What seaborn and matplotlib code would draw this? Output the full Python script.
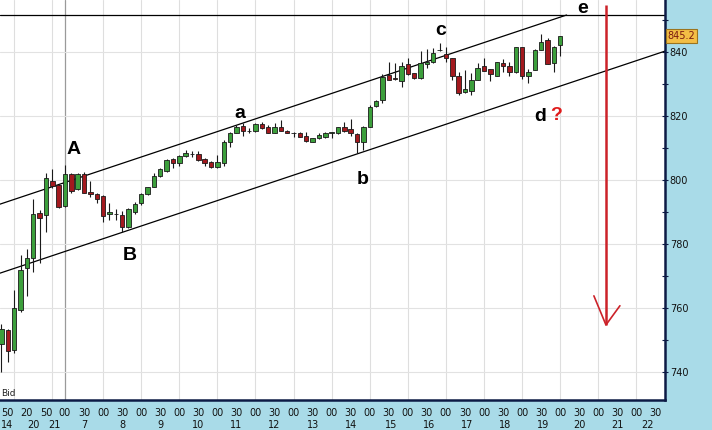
import matplotlib
matplotlib.use("Agg")
import matplotlib.pyplot as plt
import matplotlib.transforms as mtransforms
import numpy as np
import pandas as pd
import seaborn as sns

# ---------------- data ----------------
opens = [748.8, 753.1, 746.7, 759.4, 772.5, 775.6, 789.7, 789.1, 799.9, 798.5,
         792.0, 801.9, 797.2, 801.9, 796.4, 795.7, 795.1, 789.5, 789.5, 789.1,
         785.3, 789.9, 792.9, 795.7, 798.0, 801.3, 803.0, 806.6, 805.3, 807.7,
         808.2, 808.2, 806.6, 805.8, 804.1, 805.3, 811.8, 814.9, 817.0, 815.5,
         815.5, 817.6, 816.6, 814.9, 816.8, 815.5, 814.9, 814.7, 813.9, 812.1,
         813.1, 813.5, 814.8, 814.7, 816.8, 816.0, 814.5, 812.1, 816.8, 823.3,
         825.1, 833.0, 831.9, 831.1, 836.3, 833.5, 831.9, 836.3, 837.1, 840.7,
         839.4, 838.2, 832.6, 827.5, 828.0, 831.4, 835.6, 834.8, 832.7, 836.6,
         835.6, 833.8, 841.8, 832.7, 834.5, 840.8, 843.9, 836.6, 842.4]
highs = [755.0, 753.5, 765.7, 776.6, 778.4, 794.1, 790.7, 802.2, 803.4, 798.8,
         804.8, 802.2, 802.2, 802.7, 799.6, 796.1, 795.4, 793.0, 790.9, 790.5,
         791.2, 793.3, 796.1, 798.0, 802.2, 803.8, 806.7, 806.9, 807.9, 809.3,
         809.0, 809.0, 806.9, 806.1, 807.9, 812.5, 815.2, 817.3, 817.8, 816.3,
         817.8, 818.3, 817.3, 818.0, 818.7, 815.7, 815.0, 815.2, 815.2, 813.1,
         814.7, 815.2, 815.2, 816.8, 818.3, 819.1, 814.7, 817.0, 823.6, 825.1,
         833.2, 836.9, 836.6, 837.1, 838.4, 833.5, 840.3, 841.0, 841.5, 842.9,
         841.8, 838.2, 834.0, 834.5, 833.5, 836.6, 838.2, 834.8, 837.1, 838.0,
         837.1, 841.8, 841.8, 834.8, 841.1, 845.7, 844.6, 842.1, 845.0]
lows = [740.0, 743.2, 746.0, 758.6, 763.8, 771.4, 774.0, 783.9, 797.5, 791.2,
        791.7, 795.9, 797.0, 795.9, 794.7, 792.8, 787.0, 787.6, 787.6, 783.9,
        785.0, 789.5, 792.3, 795.4, 797.8, 801.1, 802.7, 803.8, 804.3, 807.4,
        807.4, 806.1, 804.5, 803.8, 803.8, 804.3, 810.3, 814.7, 813.9, 814.7,
        815.2, 816.0, 814.7, 814.7, 815.5, 814.7, 813.6, 813.5, 812.1, 812.1,
        812.8, 813.1, 813.1, 814.5, 815.2, 813.9, 808.6, 809.3, 816.6, 823.0,
        824.1, 831.4, 831.4, 829.3, 833.0, 831.7, 831.7, 835.1, 836.6, 840.5,
        837.1, 831.4, 826.7, 827.2, 826.7, 831.4, 834.2, 830.9, 832.7, 834.0,
        832.7, 833.5, 831.7, 830.4, 834.5, 840.8, 836.3, 833.8, 839.0]
closes = [753.5, 746.4, 760.0, 771.9, 775.6, 789.5, 788.1, 800.6, 798.2, 791.7,
          801.9, 796.7, 801.9, 795.9, 795.6, 794.1, 788.8, 790.2, 789.4, 785.3,
          790.9, 792.6, 795.7, 797.8, 801.3, 803.4, 806.4, 805.5, 807.6, 808.6,
          808.1, 806.4, 805.5, 804.1, 805.8, 811.8, 814.9, 816.8, 815.5, 815.3,
          817.6, 816.3, 814.9, 816.6, 815.5, 814.7, 814.7, 813.6, 812.4, 813.1,
          814.2, 814.9, 815.0, 816.6, 815.5, 814.7, 811.8, 816.8, 823.0, 824.9,
          832.4, 831.4, 831.7, 835.6, 833.2, 832.1, 836.6, 837.1, 839.7, 840.6,
          838.4, 832.7, 827.2, 828.6, 831.4, 835.1, 834.2, 833.2, 836.9, 835.6,
          833.8, 841.8, 832.7, 834.0, 840.8, 843.2, 836.3, 841.8, 845.2]
last_price = 845.2

# trend / channel lines (index, price)
hline_level = 851.6
upper_x = [-0.24, 89.0]
upper_y = [792.5, 851.7]
lower_x = [-0.24, 104.5]
lower_y = [770.9, 840.4]

# red arrow (index, price)
arrow_x = [95.2, 95.2]
arrow_y = [854.9, 754.7]
arrow_head_x = [93.3, 95.2, 97.4]
arrow_head_y = [763.8, 754.7, 760.7]

# wave labels
wave_labels = ["A", "B", "a", "b", "c", "d"]
wave_x = [11.3, 20.2, 37.6, 56.9, 69.1, 84.8]
wave_y = [809.5, 776.3, 820.8, 800.1, 846.7, 819.8]
top_label, top_label_x = "e", 91.6
question_x, question_y = 87.3, 820.1

# axis ticks / labels
time_pos = [1, 4, 7, 10] + list(range(13, 104, 3))
time_labels = ["50", "20", "50", "00"] + ["30", "00"] * 15 + ["30"]
date_pos = [5.0, 8.4, 13, 19, 25, 31, 37, 43, 49, 55, 61.3, 67.4, 73.4,
            79.3, 85.3, 91.1, 97.0, 101.7]
date_labels = ["20", "21", "7", "8", "9", "10", "11", "12", "13", "14",
               "15", "16", "17", "18", "19", "20", "21", "22"]
first_date_label = "14"
grid_x = [2, 8] + list(range(16, 104, 6))
marker_x = 10
y_major = [740, 760, 780, 800, 820, 840]
y_minor = [750, 770, 790, 810, 830, 850]

# ---------------- style ----------------
sns.set_theme(style="white")
plt.rcParams["font.family"] = ["DejaVu Sans"]

BG = "#a9dbe8"
NAVY = "#0d1a45"
GREEN = "#3c9f3c"
RED = "#a3191e"
EDGE = "#1a1a1a"

fig = plt.figure(figsize=(7.12, 4.30), dpi=100)
fig.patch.set_facecolor(BG)
ax = fig.add_axes([0, 30 / 430, 665 / 712, 400 / 430])
ax.set_facecolor("white")
ax.set_xlim(-0.236, 104.5)
ax.set_ylim(731.2, 856.4)

df = pd.DataFrame({"o": opens, "h": highs, "l": lows, "c": closes})
df["i"] = np.arange(len(df))
df["up"] = df["c"] >= df["o"]

# grid
for gx in grid_x:
    ax.axvline(gx, color="#dedede", lw=0.8, zorder=0)
ax.axvline(marker_x, color="#9a9a9a", lw=0.9, zorder=0)
for gy in y_major:
    ax.axhline(gy, color="#e2e2e2", lw=0.8, zorder=0)

# channel lines via seaborn
sns.lineplot(x=upper_x, y=upper_y, ax=ax, color="black", lw=0.9, zorder=2)
sns.lineplot(x=lower_x, y=lower_y, ax=ax, color="black", lw=0.9, zorder=2)
ax.axhline(hline_level, color="black", lw=0.9, zorder=2)

# candles
ax.vlines(df["i"], df["l"], df["h"], color=EDGE, lw=0.8, zorder=3)
body_bottom = np.minimum(df["o"], df["c"])
body_h = np.maximum(np.abs(df["c"] - df["o"]), 0.15)
colors = [GREEN if u else RED for u in df["up"]]
ax.bar(df["i"], body_h, bottom=body_bottom, width=0.7, color=colors,
       edgecolor=EDGE, linewidth=0.6, zorder=4)

# red arrow
ax.plot(arrow_x, arrow_y, color="#cc2229", lw=1.8, zorder=5, solid_capstyle="butt")
ax.plot(arrow_head_x, arrow_head_y, color="#cc2229", lw=1.2, zorder=5)

# wave labels
for t, x, y in zip(wave_labels, wave_x, wave_y):
    ax.text(x, y, t, fontsize=14, fontweight="bold", family="Liberation Sans",
            ha="center", va="center", color="black", zorder=6)
xtrans = mtransforms.blended_transform_factory(ax.transData, ax.transAxes)
ax.text(top_label_x, 0.999, top_label, transform=xtrans, fontsize=14,
        fontweight="bold", family="Liberation Sans", ha="center", va="top",
        color="black", zorder=6)
ax.text(question_x, question_y, "?", fontsize=14, fontweight="bold",
        family="Liberation Sans", ha="center", va="center", color="#e01b1b", zorder=6)

# spines
for s in ["left", "top"]:
    ax.spines[s].set_visible(False)
for s in ["right", "bottom"]:
    ax.spines[s].set_color(NAVY)
    ax.spines[s].set_linewidth(1.8)

# y axis right
ax.yaxis.tick_right()
ax.set_yticks(y_major)
ax.set_yticks(y_minor, minor=True)
ax.set_yticklabels([str(v) for v in y_major])
ax.tick_params(axis="y", which="both", direction="inout", length=5, width=0.8,
               color=NAVY, labelsize=7, pad=1, labelcolor="#111111")

# x axis
ax.set_xticks(time_pos)
ax.set_xticklabels(time_labels)
ax.set_xticks(np.arange(0, 105), minor=True)
ax.tick_params(axis="x", which="major", direction="out", length=3, width=0.8,
               color=NAVY, labelsize=7, pad=3, labelcolor="#111111")
ax.tick_params(axis="x", which="minor", direction="out", length=2.5, width=0.8,
               color=NAVY)
for p, l in zip(date_pos, date_labels):
    ax.text(p, -25.5 / 400, l, transform=xtrans, fontsize=7, ha="center",
            va="center", color="#111111", clip_on=False)
ax.text(0.001, -25.5 / 400, first_date_label, transform=ax.transAxes, fontsize=7,
        ha="left", va="center", color="#111111", clip_on=False)

# last price box
ytrans = mtransforms.blended_transform_factory(ax.transAxes, ax.transData)
ax.text(1.004, last_price, f"{last_price}", transform=ytrans, fontsize=7,
        ha="left", va="center", color="#7a1a10", clip_on=False, zorder=10,
        bbox=dict(boxstyle="square,pad=0.2", fc="#f3be45", ec="#9a7420", lw=0.8))

fig.text(1 / 712, 1 - 393 / 430, "Bid", fontsize=6.5, va="center", ha="left",
         color="#222222")

fig.savefig("out.png", dpi=100, facecolor=fig.get_facecolor())
